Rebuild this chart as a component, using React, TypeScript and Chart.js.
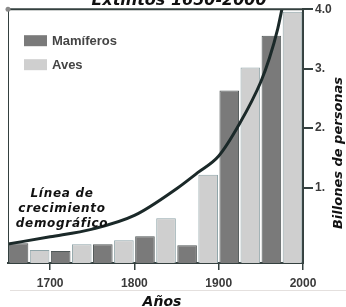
import React, { useEffect, useRef } from "react";
import { Chart, registerables } from "chart.js";
Chart.register(...registerables);

// 50-year periods (start year); each period holds a mammal bar then a bird bar
const periodStarts = [1650, 1700, 1750, 1800, 1850, 1900, 1950];
const mammals = [7.8, 4.7, 7.4, 10.5, 7.0, 68, 89.5];
const birds = [5.1, 7.4, 9.0, 17.6, 34.8, 77, 99];
const popYears = [1650, 1700, 1750, 1800, 1850, 1875, 1900, 1925, 1950, 1960, 1970, 1975];
const popValues = [0.05, 0.17, 0.3, 0.53, 0.98, 1.25, 1.53, 2.08, 2.78, 3.17, 3.67, 4.0];
const yearTicks = [1700, 1800, 1900, 2000];
const popTicks = [1, 2, 3, 4];
const popTickLabels = ["1.", "2.", "3.", "4.0"];
const chartTitle = "Extintos 1650-2000";
const xTitle = "Años";
const yTitle = "Billones de personas";
const noteLines = ["Línea de", "crecimiento", "demográfico"];

const DARK = "#7a7a7a";
const LIGHT = "#cfcfcf";
const AXIS = "#34403f";

const decor = {
  id: "decor",
  afterDraw(chart: any) {
    const { ctx, chartArea: a } = chart;
    ctx.save();
    ctx.strokeStyle = AXIS;
    ctx.lineWidth = 2;
    ctx.beginPath();
    ctx.moveTo(a.left, a.top);
    ctx.lineTo(a.right, a.top);
    ctx.stroke();
    ctx.lineWidth = 1;
    ctx.beginPath();
    ctx.moveTo(a.left + 0.5, a.top);
    ctx.lineTo(a.left + 0.5, a.bottom);
    ctx.stroke();
    ctx.fillStyle = "#8a8a8a";
    ctx.beginPath();
    ctx.arc(a.left, a.top, 2.5, 0, Math.PI * 2);
    ctx.fill();
    ctx.strokeStyle = "#e4e0de";
    ctx.lineWidth = 1;
    ctx.beginPath();
    ctx.moveTo(a.left + 2, a.bottom + 27.5);
    ctx.lineTo(346, a.bottom + 27.5);
    ctx.stroke();
    ctx.fillStyle = "#111";
    ctx.font = "italic bold 16px 'DejaVu Sans'";
    ctx.textAlign = "center";
    ctx.textBaseline = "alphabetic";
    ctx.fillText(chartTitle, 179, 5);
    const ds = chart.data.datasets.filter((d: any) => d.type !== "line");
    ctx.font = "bold 13px 'Liberation Sans'";
    ctx.textAlign = "left";
    ctx.textBaseline = "middle";
    ds.forEach((d: any, i: number) => {
      const y = a.top + 26 + i * 24;
      ctx.fillStyle = d.backgroundColor;
      ctx.fillRect(a.left + 16, y, 23, 11);
      ctx.fillStyle = "#444";
      ctx.fillText(d.label, a.left + 44, y + 6);
    });
    ctx.fillStyle = "#111";
    ctx.font = "italic bold 12px 'DejaVu Sans'";
    ctx.textAlign = "center";
    (ctx as any).letterSpacing = "0.7px";
    noteLines.forEach((t, i) => ctx.fillText(t, a.left + 54, a.bottom - 69 + i * 15));
    (ctx as any).letterSpacing = "0px";
    ctx.font = "italic bold 14px 'DejaVu Sans'";
    ctx.fillText(xTitle, 162, a.bottom + 39);
    ctx.translate(339, 153);
    ctx.rotate(-Math.PI / 2);
    ctx.font = "italic bold 13px 'DejaVu Sans'";
    ctx.fillText(yTitle, 0, 0);
    ctx.restore();
  },
};

export default function App() {
  const ref = useRef<HTMLCanvasElement>(null);
  useEffect(() => {
    const barCommon = {
      type: "bar",
      xAxisID: "xLin",
      yAxisID: "y",
      borderWidth: 1,
      barPercentage: 1,
      categoryPercentage: 0.93,
      grouped: false,
      order: 1,
    };
    const chart = new Chart(ref.current!, {
      type: "bar",
      data: {
        datasets: [
          {
            type: "line",
            label: "Población",
            data: popYears.map((x, i) => ({ x, y: popValues[i] })),
            xAxisID: "xLin",
            yAxisID: "yPop",
            borderColor: "#1b2929",
            borderWidth: 3,
            pointRadius: 0,
            cubicInterpolationMode: "monotone",
            order: 0,
          } as any,
          {
            ...barCommon,
            label: "Mamíferos",
            data: periodStarts.map((s, i) => ({ x: s + 12.5, y: mammals[i] })),
            backgroundColor: DARK,
            borderColor: "#505858",
          } as any,
          {
            ...barCommon,
            label: "Aves",
            data: periodStarts.map((s, i) => ({ x: s + 37.5, y: birds[i] })),
            backgroundColor: LIGHT,
            borderColor: "#8fa4a8",
          } as any,
        ],
      },
      options: {
        responsive: false,
        animation: false,
        devicePixelRatio: 1,
        layout: { padding: { left: 8, top: 7, right: 0, bottom: 0 } },
        plugins: { legend: { display: false }, tooltip: { enabled: false }, title: { display: false } },
        scales: {
          y: { type: "linear", display: false, min: 0, max: 100 },
          xLin: {
            type: "linear",
            position: "bottom",
            min: 1650,
            max: 2000,
            offset: false,
            afterBuildTicks: (s: any) => {
              s.ticks = yearTicks.map((v) => ({ value: v }));
            },
            afterFit: (s: any) => {
              s.height = 44;
            },
            grid: { offset: false, drawOnChartArea: false, drawTicks: true, tickLength: 7, color: AXIS, lineWidth: 1.5 },
            border: { display: true, color: AXIS, width: 2 },
            ticks: {
              autoSkip: false,
              maxRotation: 0,
              padding: 6,
              color: "#3a3a3a",
              font: { family: "'Liberation Sans'", weight: "bold", size: 12 },
              callback: (v: any) => String(v),
            },
          },
          yPop: {
            type: "linear",
            position: "right",
            min: -0.27,
            max: 4,
            afterBuildTicks: (s: any) => {
              s.ticks = popTicks.map((v) => ({ value: v }));
            },
            afterFit: (s: any) => {
              s.width = 43;
            },
            grid: { drawOnChartArea: false, drawTicks: true, tickLength: 10, color: AXIS, lineWidth: 2 },
            border: { display: true, color: AXIS, width: 2 },
            ticks: {
              padding: 2,
              color: "#3a3a3a",
              font: { family: "'Liberation Sans'", weight: "bold", size: 12 },
              callback: (v: any) => popTickLabels[popTicks.indexOf(v)] ?? "",
            },
          },
        },
      },
      plugins: [decor],
    });
    return () => chart.destroy();
  }, []);
  return (
    <div style={{ width: 346, height: 307 }}>
      <canvas
        ref={ref}
        width={346}
        height={307}
        style={{ position: "absolute", left: 0, top: 0, width: 346, height: 307 }}
      />
    </div>
  );
}
